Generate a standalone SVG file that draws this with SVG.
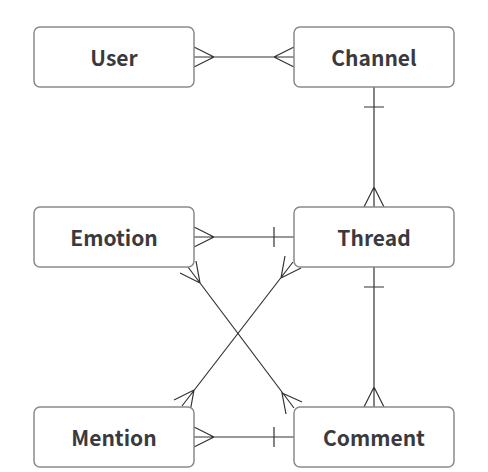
<svg xmlns="http://www.w3.org/2000/svg" width="488" height="472" viewBox="0 0 488 472">
<style>
.box{fill:#fff;stroke:#8a8a8a;stroke-width:1.5}
.lbl{font-family:"Noto Sans CJK KR","Noto Sans",sans-serif;font-weight:bold;font-size:21px;fill:#3a3a3e;text-anchor:middle;dominant-baseline:central}
.c{fill:none;stroke:#333;stroke-width:1.2}
</style>
<rect width="488" height="472" fill="#fff"/>
<g id="connectors" class="c">
<!-- User - Channel -->
<path d="M194,57 H294 M194,47 L214,57 L194,67 M294,47 L274,57 L294,67"/>
<!-- Channel - Thread -->
<path d="M374,87 V207 M364,107 H384 M364,207 L374,187 L384,207"/>
<!-- Thread - Comment -->
<path d="M374,267 V407 M364,287 H384 M364,407 L374,387 L384,407"/>
<!-- Emotion - Thread -->
<path d="M194,237 H294 M194,227 L214,237 L194,247 M274,227 V247"/>
<!-- Mention - Comment -->
<path d="M194,437 H294 M194,427 L214,437 L194,447 M274,427 V447"/>
<!-- Emotion - Comment diagonal -->
<path d="M188,267 L294,408 M180,273 L200,283 L196,261 M302,402 L282,393 L286,414"/>
<!-- Thread - Mention diagonal -->
<path d="M293,262 L182,406 M301,268 L281,278 L285,256 M190,412 L194,390 L174,400"/>
</g>
<g id="user"><rect class="box" x="34" y="27" width="160" height="60" rx="6"/><text class="lbl" x="114" y="57">User</text></g>
<g id="channel"><rect class="box" x="294" y="27" width="160" height="60" rx="6"/><text class="lbl" x="374" y="57">Channel</text></g>
<g id="emotion"><rect class="box" x="34" y="207" width="160" height="60" rx="6"/><text class="lbl" x="114" y="237">Emotion</text></g>
<g id="thread"><rect class="box" x="294" y="207" width="160" height="60" rx="6"/><text class="lbl" x="374" y="237">Thread</text></g>
<g id="mention"><rect class="box" x="34" y="407" width="160" height="60" rx="6"/><text class="lbl" x="114" y="437">Mention</text></g>
<g id="comment"><rect class="box" x="294" y="407" width="160" height="60" rx="6"/><text class="lbl" x="374" y="437">Comment</text></g>
</svg>
